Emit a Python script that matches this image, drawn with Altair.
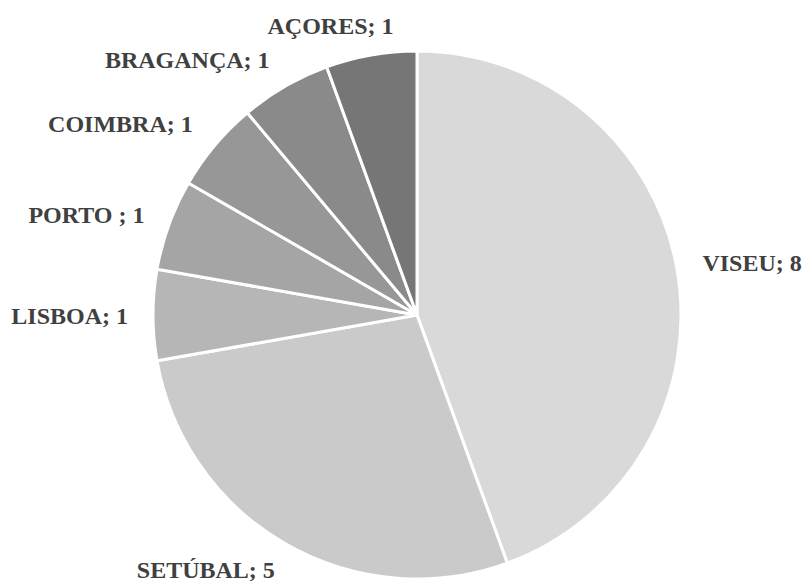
import altair as alt
import pandas as pd

# Respondents per district / region
regions = ["VISEU", "SETÚBAL", "LISBOA", "PORTO ", "COIMBRA", "BRAGANÇA", "AÇORES"]
counts = [8, 5, 1, 1, 1, 1, 1]
greys = ["#d9d9d9", "#cacaca", "#b6b6b6", "#a5a5a5", "#979797", "#8a8a8a", "#767676"]

# Where each data label sits around the pie:
# angle in degrees clockwise from 12 o'clock, distance from the centre, text alignment
label_angle = [79.8, 219.5, 269.6, 290.0, 310.3, 329.9, 343.3]
label_dist = [290, 332, 289, 290, 294, 294, 301]
label_align = ["left", "center", "right", "right", "right", "right", "center"]

CX, CY, R = 417, 315, 264

df = pd.DataFrame({
    "region": regions,
    "count": counts,
    "order": list(range(len(regions))),
    "label": [f"{r}; {c}" for r, c in zip(regions, counts)],
    "lab_deg": label_angle,
    "lab_r": label_dist,
    "lab_align": label_align,
})

base = alt.Chart(df)

pie = base.mark_arc(outerRadius=R, stroke="white", strokeWidth=3).encode(
    theta=alt.Theta("count:Q", stack=True),
    order=alt.Order("order:Q"),
    color=alt.Color("region:N", scale=alt.Scale(domain=regions, range=greys), legend=None),
    x=alt.value(CX),
    y=alt.value(CY),
)

labels = []
for a in ["left", "center", "right"]:
    labels.append(
        base.transform_filter(alt.datum.lab_align == a)
        .transform_calculate(lab_theta="datum.lab_deg * PI / 180")
        .mark_text(
            align=a,
            baseline="middle",
            font="Liberation Serif",
            fontSize=24,
            fontWeight="bold",
            color="#404040",
        )
        .encode(
            theta=alt.Theta("lab_theta:Q", scale=None),
            radius=alt.Radius("lab_r:Q", scale=None),
            text="label:N",
            x=alt.value(CX),
            y=alt.value(CY),
        )
    )

chart = (
    alt.layer(pie, *labels)
    .properties(width=803, height=584, padding=0, autosize=alt.AutoSizeParams(type="none"), background="white")
    .configure_view(stroke=None)
)

chart.save("out.html", embed_options={"renderer": "svg", "actions": False})
